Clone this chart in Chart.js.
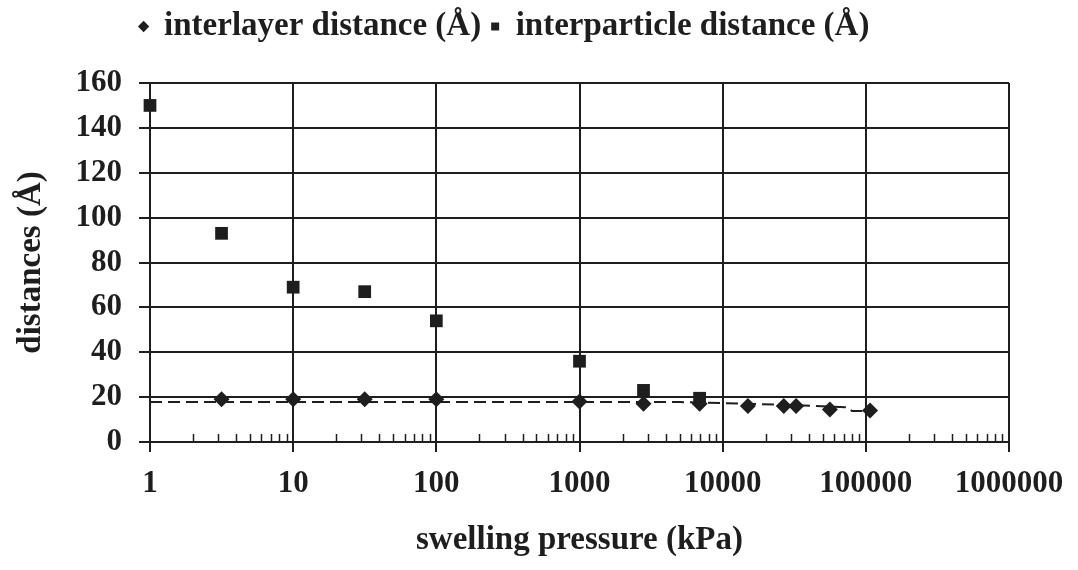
<!DOCTYPE html>
<html lang="en">

<head>
    <meta charset="UTF-8">
    <title>Distances vs swelling pressure</title>
    <script src="https://cdn.jsdelivr.net/npm/chart.js"></script>
    <style>
        body { margin: 0; background: #fff; }
    </style>
</head>

<body>
    <canvas id="distChart" width="1078" height="570"></canvas>

    <script>
        // values
        var pressureInterlayer = [3.16, 10, 31.6, 100, 1000, 2800, 6900, 15000, 26700, 32600, 56100, 107000];
        var interlayer = [19, 19, 19, 19, 18, 17, 17, 16, 16, 16, 14.5, 14];

        var pressureInterparticle = [1, 3.16, 10, 31.6, 100, 1000, 2800, 6900];
        var interparticle = [150, 93, 69, 67, 54, 36, 23, 19.5];

        // dashed trend line (as drawn in the source)
        var pressureTrend = [1, 5000, 10000, 30000, 75000, 80000, 107000];
        var trend = [17.8, 17.8, 17.3, 16.5, 15.5, 13.8, 13.8];

        // axis ticks
        var decades = [1, 10, 100, 1000, 10000, 100000, 1000000];
        var minorSteps = [2, 3, 4, 5, 6, 7, 8, 9];

        function toPoints(xs, ys) {
            return xs.map(function (x, i) { return { x: x, y: ys[i] }; });
        }

        var ink = '#1e1e1e';
        var serif = "'Liberation Serif', 'Times New Roman', serif";

        // small tick marks between the decades, pointing up from the x axis
        var minorTicks = {
            id: 'minorTicks',
            beforeDatasetsDraw: function (chart) {
                var ctx = chart.ctx;
                var xs = chart.scales.x;
                var bottom = chart.chartArea.bottom;
                ctx.save();
                ctx.strokeStyle = ink;
                ctx.lineWidth = 1.5;
                for (var d = 0; d < decades.length - 1; d++) {
                    minorSteps.forEach(function (m) {
                        var px = Math.round(xs.getPixelForValue(decades[d] * m)) + 0.5;
                        ctx.beginPath();
                        ctx.moveTo(px, bottom - 8);
                        ctx.lineTo(px, bottom);
                        ctx.stroke();
                    });
                }
                ctx.restore();
            }
        };

        // keep the legend near the top but leave a gap above the plot
        var legendGap = {
            id: 'legendGap',
            afterInit: function (chart) {
                var legend = chart.legend;
                var fit = legend.fit;
                legend.fit = function () {
                    fit.call(this);
                    this.height = 83;
                };
            }
        };

        var ctx = document.getElementById('distChart').getContext('2d');

        var distChart = new Chart(ctx, {
            type: 'scatter',
            data: {
                datasets: [{
                    label: 'interlayer distance (Å)',
                    data: toPoints(pressureInterlayer, interlayer),
                    pointStyle: 'rectRot',
                    pointRadius: 8,
                    backgroundColor: ink,
                    borderColor: ink,
                    borderWidth: 0,
                    clip: false
                }, {
                    label: 'interparticle distance (Å)',
                    data: toPoints(pressureInterparticle, interparticle),
                    pointStyle: 'rect',
                    pointRadius: 9,
                    backgroundColor: ink,
                    borderColor: ink,
                    borderWidth: 0,
                    clip: false
                }, {
                    label: 'trend',
                    type: 'line',
                    data: toPoints(pressureTrend, trend),
                    showLine: true,
                    borderColor: ink,
                    borderWidth: 2,
                    borderDash: [12, 6],
                    pointRadius: 0,
                    fill: false
                }]
            },
            options: {
                responsive: false,
                animation: false,
                layout: {
                    padding: { top: 0, right: 69, bottom: 0, left: 0 }
                },
                plugins: {
                    legend: {
                        position: 'top',
                        labels: {
                            usePointStyle: true,
                            boxWidth: 8,
                            boxHeight: 8,
                            padding: 10,
                            color: ink,
                            font: { family: serif, size: 33, weight: 'bold' },
                            filter: function (item) { return item.text !== 'trend'; }
                        }
                    },
                    tooltip: { enabled: false }
                },
                scales: {
                    x: {
                        type: 'logarithmic',
                        min: 1,
                        max: 1000000,
                        afterBuildTicks: function (scale) {
                            scale.ticks = decades.map(function (v) { return { value: v }; });
                        },
                        afterFit: function (scale) {
                            scale.height = 128;
                        },
                        ticks: {
                            autoSkip: false,
                            maxRotation: 0,
                            padding: 13,
                            color: ink,
                            font: { family: serif, size: 31, weight: 'bold' },
                            callback: function (value) { return String(value); }
                        },
                        grid: {
                            color: ink,
                            lineWidth: 2,
                            tickLength: 10,
                            tickColor: ink
                        },
                        border: { color: ink, width: 2 },
                        title: {
                            display: true,
                            text: 'swelling pressure (kPa)',
                            color: ink,
                            padding: { top: 0, bottom: 10 },
                            font: { family: serif, size: 33, weight: 'bold' }
                        }
                    },
                    y: {
                        min: 0,
                        max: 160,
                        afterFit: function (scale) {
                            scale.width = 150;
                        },
                        ticks: {
                            stepSize: 20,
                            padding: 17,
                            color: ink,
                            font: { family: serif, size: 31, weight: 'bold' }
                        },
                        grid: {
                            color: ink,
                            lineWidth: 2,
                            tickLength: 11,
                            tickColor: ink
                        },
                        border: { color: ink, width: 2 },
                        title: {
                            display: true,
                            text: 'distances (Å)',
                            color: ink,
                            padding: { top: 12, bottom: 0 },
                            font: { family: serif, size: 33, weight: 'bold' }
                        }
                    }
                }
            },
            plugins: [minorTicks, legendGap]
        });
    </script>
</body>

</html>
